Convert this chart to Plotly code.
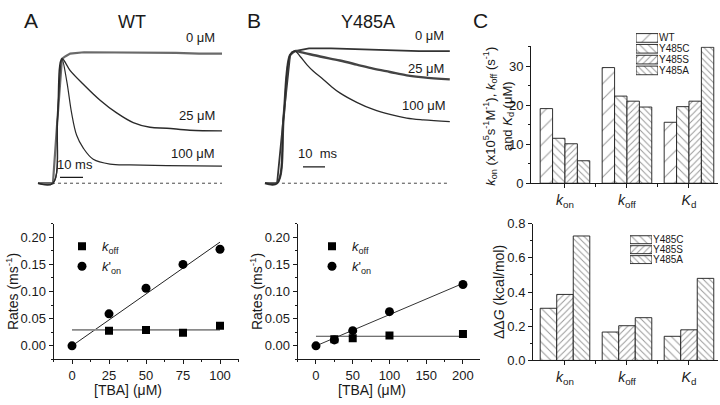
import plotly.graph_objects as go

W, H = 720, 405
def fx(x): return x / W
def fy(y): return 1 - y / H

FONT = "Liberation Sans, Arial, sans-serif"
INK = "#1a1a1a"

# ---------------- data ----------------
# Panel A (WT): normalized current traces, time in ms
wt0_t = [0, 6.5, 8.5, 10.4, 12, 14, 20, 30, 40, 50, 60, 70, 80]
wt0_v = [0, 0, 0.5, 0.95, 0.97, 0.99, 1.0, 1.0, 0.995, 1.0, 0.995, 0.99, 0.99]
wt25_t = [0, 6.5, 8.5, 10.4, 14, 19.7, 27, 34.2, 41.4, 48.7, 56, 66, 80]
wt25_v = [0, 0, 0.5, 0.95, 0.86, 0.756, 0.634, 0.537, 0.463, 0.427, 0.42, 0.405, 0.40]
wt100_t = [0, 6.5, 8.5, 10.4, 12.5, 14.6, 16.8, 19.7, 24, 31.3, 40, 56, 80]
wt100_v = [0, 0, 0.5, 0.95, 0.78, 0.537, 0.366, 0.268, 0.183, 0.146, 0.14, 0.135, 0.13]

# Panel B (Y485A)
a0_t = [0, 5.5, 8.5, 11.4, 13.6, 20, 30, 40, 50, 60, 70, 84]
a0_v = [0, 0, 0.5, 0.95, 0.98, 1.0, 1.0, 0.995, 0.99, 0.985, 0.98, 0.98]
a25_t = [0, 5.5, 8.5, 11.4, 13.6, 16.7, 25, 34, 41.7, 49.2, 56.8, 64.4, 72, 84]
a25_v = [0, 0, 0.5, 0.95, 0.98, 0.97, 0.94, 0.91, 0.88, 0.85, 0.825, 0.80, 0.785, 0.77]
a100_t = [0, 5.5, 8.5, 11.4, 13.6, 16, 19, 22, 26.5, 30, 34, 41.7, 49.2, 56.8, 64.4, 72, 84]
a100_v = [0, 0, 0.5, 0.95, 0.98, 0.94, 0.88, 0.83, 0.77, 0.72, 0.67, 0.60, 0.547, 0.51, 0.483, 0.47, 0.457]

# Rates vs [TBA]
wt_kon_conc = [0, 25, 50, 75, 100]
wt_kon = [0.0, 0.059, 0.106, 0.150, 0.178]
wt_koff_conc = [25, 50, 75, 100]
wt_koff = [0.028, 0.029, 0.024, 0.037]
wt_fit_conc = [0, 100]
wt_kon_fit = [0.0, 0.191]
wt_koff_fit = [0.0295, 0.0295]

a_kon_conc = [0, 25, 50, 100, 200]
a_kon = [0.0, 0.011, 0.028, 0.063, 0.113]
a_koff_conc = [25, 50, 100, 200]
a_koff = [0.012, 0.014, 0.019, 0.022]
a_fit_conc = [0, 200]
a_kon_fit = [0.0, 0.115]
a_koff_fit = [0.0177, 0.0177]

# Panel C
params = ["<i>k</i><sub>on</sub>", "<i>k</i><sub>off</sub>", "<i>K</i><sub>d</sub>"]
rate_series = ["WT", "Y485C", "Y485S", "Y485A"]
rate_WT = [19.1, 29.6, 15.6]
rate_C = [11.5, 22.3, 19.6]
rate_S = [10.1, 21.0, 21.0]
rate_A = [5.75, 19.5, 34.8]
ddg_series = ["Y485C", "Y485S", "Y485A"]
ddg_C = [0.305, 0.166, 0.141]
ddg_S = [0.386, 0.203, 0.179]
ddg_A = [0.728, 0.25, 0.48]

# pattern styles per series
PAT = {
    "WT": dict(shape="/", size=11, solidity=0.09),
    "Y485C": dict(shape="\\", size=6, solidity=0.17),
    "Y485S": dict(shape="/", size=4.5, solidity=0.22),
    "Y485A": dict(shape="\\", size=4.5, solidity=0.22),
}

fig = go.Figure()

def line_tr(x, y, xa, ya, color=INK, width=1, dash=None, shape="linear"):
    return go.Scatter(x=x, y=y, xaxis=xa, yaxis=ya, mode="lines",
                      line=dict(color=color, width=width, dash=dash, shape=shape),
                      showlegend=False, hoverinfo="skip")

# Panel A traces
fig.add_trace(line_tr(wt0_t, wt0_v, "x", "y", "#6a6a6a", 2.2))
fig.add_trace(line_tr(wt25_t, wt25_v, "x", "y", "#2a2a2a", 1.4, shape="spline"))
fig.add_trace(line_tr(wt100_t, wt100_v, "x", "y", "#2a2a2a", 1.2, shape="spline"))
fig.add_trace(line_tr([6.1, 80], [0, 0], "x", "y", "#333", 0.9, dash="3px,3px"))
# Panel B traces
fig.add_trace(line_tr(a0_t, a0_v, "x2", "y2", "#333", 1.8))
fig.add_trace(line_tr(a25_t, a25_v, "x2", "y2", "#444", 2.4, shape="spline"))
fig.add_trace(line_tr(a100_t, a100_v, "x2", "y2", "#2a2a2a", 1.3, shape="spline"))
fig.add_trace(line_tr([7.7, 84], [0, 0], "x2", "y2", "#333", 0.9, dash="3px,3px"))

# Rate plots
KOFF = "<i>k</i><sub>off</sub>"
KON = "<i>k</i>'<sub>on</sub>"
fig.add_trace(line_tr(wt_fit_conc, wt_kon_fit, "x3", "y3", "#222", 1))
fig.add_trace(line_tr(wt_fit_conc, wt_koff_fit, "x3", "y3", "#8a8a8a", 1.6))
fig.add_trace(go.Scatter(x=wt_koff_conc, y=wt_koff, xaxis="x3", yaxis="y3", mode="markers",
                         marker=dict(symbol="square", size=8, color="black"), name=KOFF, legend="legend"))
fig.add_trace(go.Scatter(x=wt_kon_conc, y=wt_kon, xaxis="x3", yaxis="y3", mode="markers",
                         marker=dict(symbol="circle", size=9, color="black"), name=KON, legend="legend"))

fig.add_trace(line_tr(a_fit_conc, a_kon_fit, "x4", "y4", "#333", 1))
fig.add_trace(line_tr(a_fit_conc, a_koff_fit, "x4", "y4", "#444", 1))
fig.add_trace(go.Scatter(x=a_koff_conc, y=a_koff, xaxis="x4", yaxis="y4", mode="markers",
                         marker=dict(symbol="square", size=8, color="black"), name=KOFF, legend="legend2"))
fig.add_trace(go.Scatter(x=a_kon_conc, y=a_kon, xaxis="x4", yaxis="y4", mode="markers",
                         marker=dict(symbol="circle", size=9, color="black"), name=KON, legend="legend2"))

# Bars
def bar_tr(name, vals, xa, ya):
    p = PAT[name]
    return go.Bar(x=list(range(len(params))), y=vals, xaxis=xa, yaxis=ya, name=name,
                  marker=dict(color="white", line=dict(color=INK, width=0.9),
                              pattern=dict(shape=p["shape"], size=p["size"], solidity=p["solidity"],
                                           fgcolor="#333", bgcolor="white")),
                  showlegend=False, hoverinfo="skip")

for nm, vals in zip(rate_series, [rate_WT, rate_C, rate_S, rate_A]):
    fig.add_trace(bar_tr(nm, vals, "x5", "y5"))
for nm, vals in zip(ddg_series, [ddg_C, ddg_S, ddg_A]):
    fig.add_trace(bar_tr(nm, vals, "x6", "y6"))

# legend keys (patterned swatches)
def key_tr(names, xa, ya):
    return go.Bar(y=names, x=[1] * len(names), base=0, orientation="h", xaxis=xa, yaxis=ya,
                  marker=dict(color="white", line=dict(color=INK, width=0.9),
                              pattern=dict(shape=[PAT[n]["shape"] for n in names],
                                           size=[PAT[n]["size"] for n in names],
                                           solidity=[PAT[n]["solidity"] for n in names],
                                           fgcolor="#333", bgcolor="white")),
                  showlegend=False, hoverinfo="skip")
fig.add_trace(key_tr(rate_series, "x7", "y7"))
fig.add_trace(key_tr(ddg_series, "x8", "y8"))

ax = dict(showline=True, linecolor=INK, linewidth=1, ticks="outside", ticklen=4, tickwidth=1,
          tickcolor=INK, showgrid=False, zeroline=False, tickfont=dict(size=13, color=INK),
          fixedrange=True)
hidden = dict(visible=False, fixedrange=True)

def minor(d):
    return dict(dtick=d, ticks="outside", ticklen=2, tickcolor=INK, showgrid=False)

def key_axis(names, y0, y1, xa):
    return dict(domain=[fy(y1), fy(y0)], autorange="reversed", side="right", anchor=xa,
                showline=False, showgrid=False, zeroline=False, ticks="", fixedrange=True,
                tickmode="array", tickvals=names, ticktext=names,
                tickfont=dict(size=10, color=INK))

fig.update_layout(
    width=W, height=H, margin=dict(l=0, r=0, t=0, b=0),
    paper_bgcolor="white", plot_bgcolor="rgba(0,0,0,0)",
    font=dict(family=FONT, color=INK, size=13),
    barmode="group", bargap=0.2, bargroupgap=0,
    xaxis=dict(hidden, domain=[fx(30), fx(230)], range=[(30 - 38) / 2.3, (230 - 38) / 2.3], anchor="y"),
    yaxis=dict(hidden, domain=[fy(200), fy(30)], range=[(183 - 200) / 136, (183 - 30) / 136], anchor="x"),
    xaxis2=dict(hidden, domain=[fx(255), fx(460)], range=[(255 - 265) / 2.2, (460 - 265) / 2.2], anchor="y2"),
    yaxis2=dict(hidden, domain=[fy(200), fy(30)], range=[(183 - 200) / 140, (183 - 30) / 140], anchor="x2"),
    xaxis3=dict(ax, domain=[fx(53.5), fx(238.5)], range=[-12.5, 112.5], tick0=0, dtick=25,
                minor=minor(12.5), anchor="y3"),
    yaxis3=dict(ax, domain=[fy(366), fy(225)], range=[-0.025, 0.225], tick0=0, dtick=0.05,
                tickformat=".2f", minor=minor(0.025), anchor="x3"),
    xaxis4=dict(ax, domain=[fx(297.6), fx(479.5)], range=[-25, 222.5], tick0=0, dtick=50,
                minor=minor(25), anchor="y4"),
    yaxis4=dict(ax, domain=[fy(366), fy(225)], range=[-0.025, 0.225], tick0=0, dtick=0.05,
                tickformat=".2f", minor=minor(0.025), anchor="x4"),
    xaxis5=dict(ax, domain=[fx(531), fx(718)], range=[-0.548, 2.468], tickmode="array",
                tickvals=[0, 1, 2], ticktext=params, tickfont=dict(size=14, color=INK),
                minor=dict(tickmode="array", tickvals=[0.5, 1.5], ticks="outside", ticklen=3,
                           tickcolor=INK), anchor="y5"),
    yaxis5=dict(ax, domain=[fy(183), fy(41)], range=[0, 35], tick0=0, dtick=10, minor=minor(5),
                anchor="x5"),
    xaxis6=dict(ax, domain=[fx(533), fx(718)], range=[-0.516, 2.468], tickmode="array",
                tickvals=[0, 1, 2], ticktext=params, tickfont=dict(size=14, color=INK),
                minor=dict(tickmode="array", tickvals=[0.5, 1.5], ticks="outside", ticklen=3,
                           tickcolor=INK), anchor="y6"),
    yaxis6=dict(ax, domain=[fy(367), fy(225)], range=[0, 0.8], tick0=0, dtick=0.2,
                tickformat=".1f", minor=minor(0.1), anchor="x6"),
    xaxis7=dict(hidden, domain=[fx(636), fx(658)], range=[0, 1], anchor="y7"),
    yaxis7=key_axis(rate_series, 26.5, 71.5, "x7"),
    xaxis8=dict(hidden, domain=[fx(630), fx(652)], range=[0, 1], anchor="y8"),
    yaxis8=key_axis(ddg_series, 236.5, 267.5, "x8"),
    legend=dict(x=fx(62), y=fy(233), xanchor="left", yanchor="top", bgcolor="rgba(0,0,0,0)",
                font=dict(size=13), tracegroupgap=0),
    legend2=dict(x=fx(312), y=fy(233), xanchor="left", yanchor="top", bgcolor="rgba(0,0,0,0)",
                 font=dict(size=13), tracegroupgap=0),
)

# scale bars
fig.add_shape(type="line", xref="x", yref="y", x0=(60 - 38) / 2.3, x1=(83 - 38) / 2.3,
              y0=(183 - 177) / 136, y1=(183 - 177) / 136, line=dict(color=INK, width=1.3))
fig.add_shape(type="line", xref="x2", yref="y2", x0=(303 - 265) / 2.2, x1=(325 - 265) / 2.2,
              y0=(183 - 166) / 140, y1=(183 - 166) / 140, line=dict(color=INK, width=1.3))

def ann(text, x, y, size=13, xanchor="center", angle=0, **kw):
    fig.add_annotation(text=text, x=fx(x), y=fy(y), xref="paper", yref="paper", showarrow=False,
                       xanchor=xanchor, yanchor="middle", textangle=angle,
                       font=dict(size=size, color=INK, family=FONT), **kw)

ann("A", 31, 14, 21)
ann("B", 254, 14, 21)
ann("C", 480, 14, 21)
ann("WT", 132, 16, 18)
ann("Y485A", 368, 16, 18)
ann("0 μM", 217, 32, xanchor="right")
ann("25 μM", 217, 113, xanchor="right")
ann("100 μM", 217, 152, xanchor="right")
ann("0 μM", 446, 30, xanchor="right")
ann("25 μM", 446, 64, xanchor="right")
ann("100 μM", 448, 102, xanchor="right")
ann("10 ms", 75, 164)
ann("10  ms", 318, 152)
ann("Rates (ms<sup>-1</sup>)", 12, 296, 14, angle=-90)
ann("Rates (ms<sup>-1</sup>)", 256, 296, 14, angle=-90)
ann("[TBA] (μM)", 128, 397.5, 14)
ann("[TBA] (μM)", 372, 397.5, 14)
ann("<i>k</i><sub>on</sub> (x10<sup>5</sup>s<sup>-1</sup>M<sup>-1</sup>), <i>k</i><sub>off</sub> (s<sup>-1</sup>)<br>and <i>K</i><sub>d</sub> (μM)",
    499, 114, 13, angle=-90)
ann("ΔΔ<i>G</i> (kcal/mol)", 499, 296, 14, angle=-90)

fig.write_html("out.html", config={"displayModeBar": False},
               post_script="document.body.style.margin='0';document.body.style.overflow='hidden';")
